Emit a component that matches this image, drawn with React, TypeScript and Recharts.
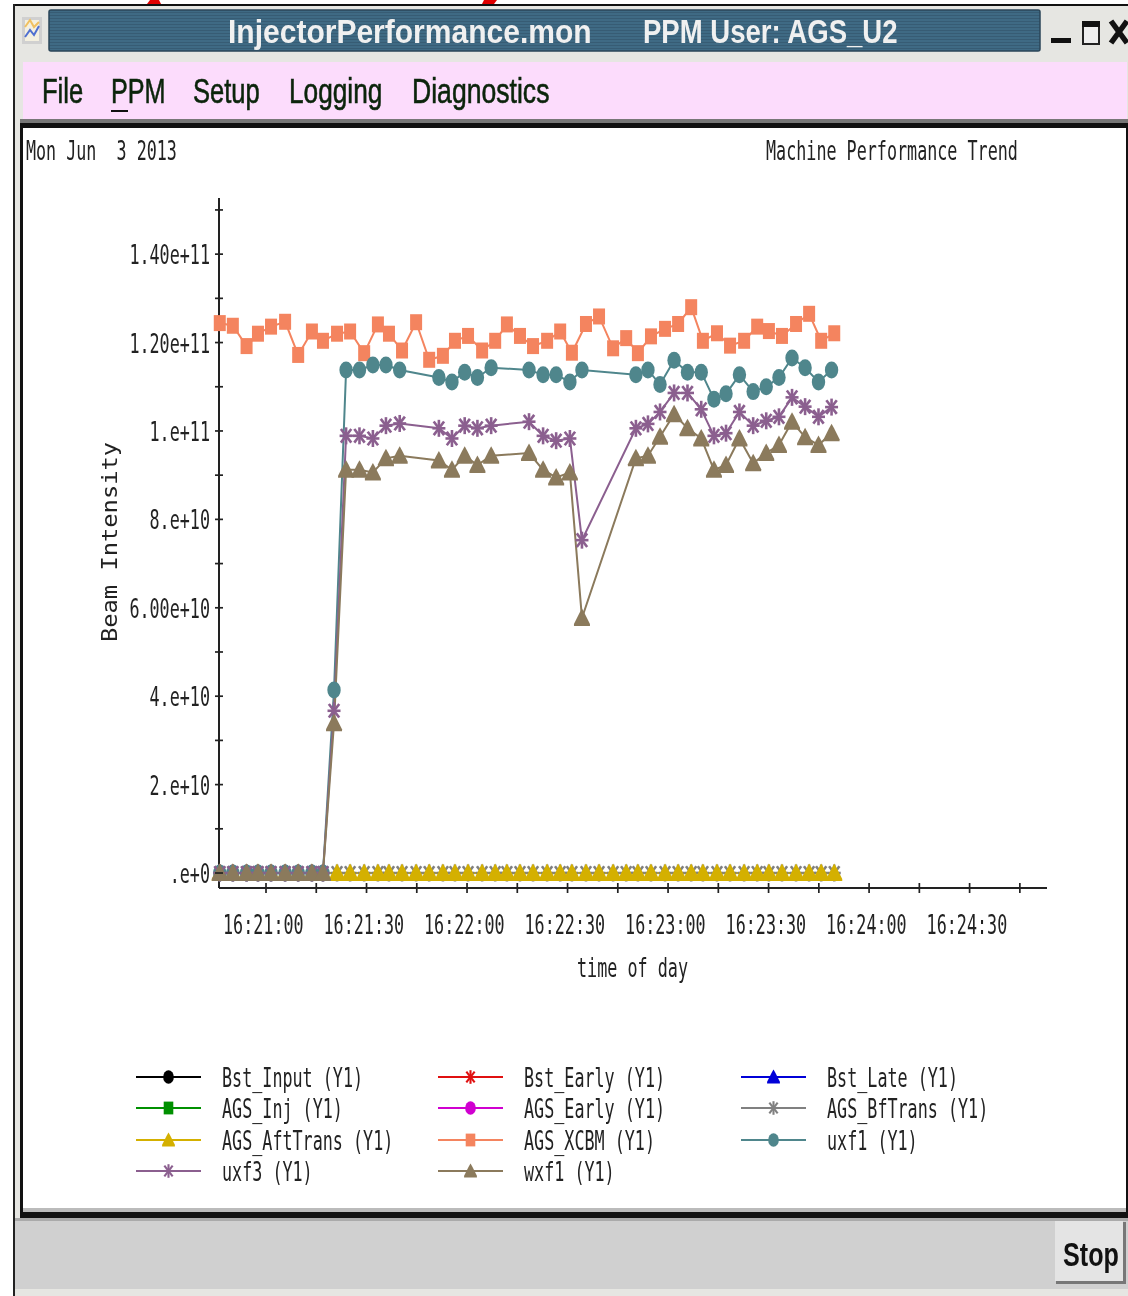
import { LineChart, Line, XAxis, YAxis, Legend } from "recharts";

// times are seconds after 16:21:00, values are in units of 1e10
const allTimes = [
  -13.8, -9.9, -5.8, -2.4, 1.5, 5.7, 9.6, 13.7, 17, 21.2, 25.1, 29.3, 33.4, 36.7, 40.6, 44.8,
  48.7, 52.8, 56.4, 60.3, 64.5, 68.4, 71.9, 75.8, 79.7, 83.9, 87.8, 91.3, 95.5, 99.4, 103.6, 107.5,
  111, 114.9, 119.1, 123, 126.9, 130.4, 134.6, 138.5, 142.7, 146.6, 150.1, 154, 158.2, 162.1, 165.7, 169.6,
];
const idleValues = [
  0, 0, 0, 0, 0, 0, 0, 0, 0, 0, 0, 0, 0, 0, 0, 0,
  0, 0, 0, 0, 0, 0, 0, 0, 0, 0, 0, 0, 0, 0, 0, 0,
  0, 0, 0, 0, 0, 0, 0, 0, 0, 0, 0, 0, 0, 0, 0, 0,
];
const xcbmValues = [
  12.44, 12.38, 11.92, 12.2, 12.36, 12.47, 11.72, 12.25, 12.04, 12.2, 12.25, 11.76, 12.41, 12.2, 11.82, 12.46,
  11.61, 11.7, 12.04, 12.15, 11.82, 12.04, 12.41, 12.15, 11.92, 12.04, 12.25, 11.77, 12.42, 12.59, 11.87, 12.1,
  11.76, 12.14, 12.31, 12.42, 12.8, 12.04, 12.21, 11.93, 12.04, 12.36, 12.26, 12.15, 12.42, 12.65, 12.04, 12.21,
];
const beamTimes = [
  -13.8, -9.9, -5.8, -2.4, 1.5, 5.7, 9.6, 13.7, 17, 20.3, 23.9, 27.9, 31.9, 35.8, 39.9, 51.6, 55.5, 59.3, 63.1, 67.2,
  78.5, 82.7, 86.6, 90.7, 94.3, 110.4, 114, 117.6, 121.8, 125.8, 129.9, 133.7, 137.3, 141.3, 145.4, 149.3, 153.1, 157,
  160.9, 164.9, 168.8,
];
const uxf1Values = [
  0, 0, 0, 0, 0, 0, 0, 0, 0, 4.14, 11.38, 11.38, 11.49, 11.49, 11.38, 11.21, 11.11, 11.33, 11.21, 11.43,
  11.38, 11.27, 11.27, 11.11, 11.38, 11.27, 11.38, 11.05, 11.6, 11.33, 11.33, 10.72, 10.84, 11.27, 10.89, 11, 11.21, 11.65,
  11.43, 11.11, 11.38,
];
const uxf3Values = [
  0, 0, 0, 0, 0, 0, 0, 0, 0, 3.67, 9.89, 9.89, 9.83, 10.12, 10.17, 10.06, 9.83, 10.12, 10.06, 10.12,
  10.21, 9.89, 9.78, 9.83, 7.53, 10.06, 10.16, 10.43, 10.86, 10.86, 10.49, 9.89, 9.95, 10.43, 10.12, 10.23, 10.32, 10.76,
  10.55, 10.32, 10.54,
];
const wxf1Values = [
  0, 0, 0, 0, 0, 0, 0, 0, 0, 3.39, 9.12, 9.12, 9.06, 9.38, 9.44, 9.33, 9.12, 9.44, 9.23, 9.44,
  9.5, 9.12, 8.95, 9.06, 5.77, 9.38, 9.44, 9.87, 10.38, 10.06, 9.83, 9.12, 9.23, 9.83, 9.27, 9.5, 9.68, 10.21,
  9.86, 9.68, 9.95,
];

const xTicks = [0, 15, 30, 45, 60, 75, 90, 105, 120, 135, 150, 165, 180, 195, 210, 225];
const xTickLabels = ["16:21:00", "", "16:21:30", "", "16:22:00", "", "16:22:30", "", "16:23:00", "", "16:23:30", "", "16:24:00", "", "16:24:30", ""];
const yTicks = [0, 1, 2, 3, 4, 5, 6, 7, 8, 9, 10, 11, 12, 13, 14, 15];
const yTickLabels = [".e+0", "", "2.e+10", "", "4.e+10", "", "6.00e+10", "", "8.e+10", "", "1.e+11", "", "1.20e+11", "", "1.40e+11", ""];
const menuItems = ["File", "PPM", "Setup", "Logging", "Diagnostics"];

// the first series are in the legend but have no marks on the plot
const series = [
  { name: "Bst_Input (Y1)", color: "#000000", marker: "circle", times: [], values: [] },
  { name: "Bst_Early (Y1)", color: "#e01010", marker: "star", times: [], values: [] },
  { name: "Bst_Late (Y1)", color: "#0000d8", marker: "triangle", times: [], values: [] },
  { name: "AGS_Inj (Y1)", color: "#009000", marker: "square", times: [], values: [] },
  { name: "AGS_Early (Y1)", color: "#d000d0", marker: "circle", times: [], values: [] },
  { name: "AGS_BfTrans (Y1)", color: "#808080", marker: "star", times: allTimes, values: idleValues },
  { name: "AGS_AftTrans (Y1)", color: "#d4b000", marker: "triangle", times: allTimes, values: idleValues },
  { name: "AGS_XCBM (Y1)", color: "#f4845f", marker: "square", times: allTimes, values: xcbmValues },
  { name: "uxf1 (Y1)", color: "#4f868c", marker: "circle", times: beamTimes, values: uxf1Values },
  { name: "uxf3 (Y1)", color: "#8b5f8f", marker: "star", times: beamTimes, values: uxf3Values },
  { name: "wxf1 (Y1)", color: "#8b7a5c", marker: "triangle", times: beamTimes, values: wxf1Values },
];

const MONO = "'DejaVu Sans Mono', monospace";
const SANS = "'Liberation Sans', sans-serif";

// narrow mono text: the glyphs are squeezed to about 10px per character
function Mono({ x, y, text, width, size = 27, anchor = "start" }: any) {
  if (!text) return null;
  const w = width ?? text.length * 10.08;
  const sx = w / (text.length * 0.602 * size);
  return (
    <text transform={`translate(${x},${y}) scale(${sx},1)`} textAnchor={anchor} fontFamily={MONO} fontSize={size} fill="#222" style={{ whiteSpace: "pre" }}>
      {text}
    </text>
  );
}

function Sans({ x, y, text, size, sx, fill, weight = 400, stroke }: any) {
  return (
    <text transform={`translate(${x},${y}) scale(${sx},1)`} fontFamily={SANS} fontSize={size} fontWeight={weight} fill={fill} stroke={stroke} strokeWidth={stroke ? 0.6 : 0}>
      {text}
    </text>
  );
}

function Marker({ kind, cx, cy, color, scale = 1 }: any) {
  const s = scale;
  if (kind === "square") return <rect x={cx - 6 * s} y={cy - 8 * s} width={12 * s} height={16 * s} fill={color} />;
  if (kind === "circle") return <ellipse cx={cx} cy={cy} rx={6.7 * s} ry={8.5 * s} fill={color} />;
  if (kind === "triangle") {
    const pts = [[cx, cy - 9.5 * s], [cx + 2.5 * s, cy - 5 * s], [cx + 5 * s, cy], [cx + 8 * s, cy + 6 * s], [cx + 8 * s, cy + 8 * s], [cx - 8 * s, cy + 8 * s], [cx - 8 * s, cy + 6 * s], [cx - 5 * s, cy], [cx - 2.5 * s, cy - 5 * s]];
    return <polygon points={pts.map((p) => p.join(",")).join(" ")} fill={color} />;
  }
  const rx = 6.5 * s;
  const ry = 8.5 * s;
  return (
    <g stroke={color} strokeWidth={2.6 * s}>
      <line x1={cx} y1={cy - ry} x2={cx} y2={cy + ry} />
      <line x1={cx - rx} y1={cy} x2={cx + rx} y2={cy} />
      <line x1={cx - rx * 0.8} y1={cy - ry * 0.8} x2={cx + rx * 0.8} y2={cy + ry * 0.8} />
      <line x1={cx - rx * 0.8} y1={cy + ry * 0.8} x2={cx + rx * 0.8} y2={cy - ry * 0.8} />
    </g>
  );
}

function XTick({ x, y, index }: any) {
  return (
    <g>
      <line x1={x} x2={x} y1={y - 5} y2={y + 5} stroke="#222" strokeWidth={1.7} />
      <Mono x={x - 43} y={y + 46} text={xTickLabels[index]} />
    </g>
  );
}

function YTick({ x, y, index }: any) {
  return (
    <g>
      <line x1={x - 4} x2={x + 4} y1={y} y2={y} stroke="#222" strokeWidth={1.7} />
      <Mono x={x - 9} y={y + 10} text={yTickLabels[index]} anchor="end" />
    </g>
  );
}

function LegendBlock() {
  const colX = [136, 438, 741];
  const rowY = [1077, 1108, 1140, 1171];
  return (
    <svg width={1128} height={1296} style={{ position: "absolute", left: 0, top: 0, pointerEvents: "none" }}>
      {series.map((s, i) => {
        const x = colX[i % 3];
        const y = rowY[Math.floor(i / 3)];
        return (
          <g key={s.name}>
            <line x1={x} x2={x + 65} y1={y} y2={y} stroke={s.color} strokeWidth={2} />
            <Marker kind={s.marker} cx={x + 32.5} cy={y} color={s.color} scale={0.8} />
            <Mono x={x + 86} y={y + 10} text={s.name} />
          </g>
        );
      })}
    </svg>
  );
}

function Frame() {
  const menuX = [42, 111, 193, 289, 412];
  const menuSx = [0.73, 0.72, 0.73, 0.75, 0.76];
  return (
    <svg width={1128} height={1296} style={{ position: "absolute", left: 0, top: 0 }}>
      <defs>
        <pattern id="titleStripes" width="4" height="3" patternUnits="userSpaceOnUse">
          <rect width="4" height="3" fill="#3f6a84" />
          <rect width="4" height="1" fill="#375c74" />
        </pattern>
      </defs>
      <rect width={1128} height={1296} fill="#ffffff" />
      <polygon points="147,4 150,0 159,0 161,4" fill="#e00000" />
      <polygon points="482,4 484,0 497,0 494,4" fill="#e00000" />
      <rect x={14} y={5} width={1114} height={1291} fill="#e6e6e2" />
      <rect x={13} y={4} width={1115} height={2} fill="#111" />
      <rect x={13} y={4} width={2} height={1292} fill="#222" />
      <rect x={22} y={17} width={20} height={27} fill="#d0d0d0" />
      <rect x={25} y={20} width={14} height={21} fill="#f4f0e0" />
      <polyline points="25,27 30,20 34,27 39,22" fill="none" stroke="#f0c060" strokeWidth={2} />
      <polyline points="25,37 30,30 34,35 39,26" fill="none" stroke="#5070d0" strokeWidth={2} />
      <rect x={49} y={10} width={991} height={41} rx={2} fill="url(#titleStripes)" stroke="#2b4658" strokeWidth={1.5} />
      <Sans x={228} y={43} text="InjectorPerformance.mon" size={33} sx={0.91} fill="#f0f0f0" weight={700} />
      <Sans x={643} y={43} text="PPM User: AGS_U2" size={33} sx={0.835} fill="#f0f0f0" weight={700} />
      <rect x={1051} y={38} width={20} height={5} fill="#111" />
      <rect x={1083} y={22} width={16} height={22} fill="#eeeeee" stroke="#222" strokeWidth={2} />
      <rect x={1082} y={21} width={18} height={6} fill="#111" />
      <path d="M1111 21 L1127 43 M1127 21 L1111 43" stroke="#111" strokeWidth={5.5} />
      <rect x={23} y={62} width={1104} height={57} fill="#fcdcfc" />
      {menuItems.map((m, i) => (
        <Sans key={m} x={menuX[i]} y={103} text={m} size={35} sx={menuSx[i]} fill="#0b240b" stroke="#0b240b" />
      ))}
      <rect x={111} y={110} width={17} height={2} fill="#111" />
      <rect x={20} y={119} width={1108} height={4} fill="#777" />
      <rect x={20} y={123} width={1108} height={1095} fill="#111" />
      <rect x={23} y={128} width={1103} height={1080} fill="#ffffff" />
      <rect x={23} y={1208} width={1103} height={4} fill="#bbbbbb" />
      <rect x={15} y={1218} width={1113} height={3} fill="#aaaaaa" />
      <rect x={15} y={1221} width={1113} height={68} fill="#d0d0d0" />
      <rect x={1056} y={1222} width={70} height={62} fill="#777777" />
      <rect x={1055} y={1221} width={68} height={60} fill="#e4e4e4" />
      <Sans x={1063} y={1266} text="Stop" size={34} sx={0.74} fill="#111" weight={700} />
      <Mono x={26} y={160} text="Mon Jun  3 2013" width={151} />
      <Mono x={766} y={160} text="Machine Performance Trend" width={252} />
      <Mono x={577} y={977} text="time of day" width={111} />
      <text transform="translate(117,642) rotate(-90) scale(1.08,1)" fontFamily={MONO} fontSize={22} fill="#222">
        Beam Intensity
      </text>
    </svg>
  );
}

export default function App() {
  return (
    <div style={{ position: "absolute", left: 0, top: 0, width: 1128, height: 1296, overflow: "hidden", filter: "blur(0.5px)" }}>
      <Frame />
      <div style={{ position: "absolute", left: 0, top: 0 }}>
        <LineChart width={1128} height={1296} margin={{ top: 198, right: 81, bottom: 407, left: 218 }}>
          <XAxis
            dataKey="time"
            type="number"
            domain={[-14.03, 233.1]}
            ticks={xTicks}
            interval={0}
            height={1}
            tick={<XTick />}
            tickLine={false}
            tickSize={0}
            tickMargin={0}
            axisLine={{ stroke: "#222", strokeWidth: 2 }}
          />
          <YAxis
            type="number"
            domain={[-0.339, 15.27]}
            ticks={yTicks}
            interval={0}
            width={1}
            tick={<YTick />}
            tickLine={false}
            tickSize={0}
            tickMargin={0}
            axisLine={{ stroke: "#222", strokeWidth: 2 }}
          />
          <Legend content={<LegendBlock />} wrapperStyle={{ position: "absolute", left: 0, top: 0, width: 1128, height: 0 }} />
          {series.map((s) => (
            <Line
              key={s.name}
              name={s.name}
              data={s.times.map((t, i) => ({ time: t, value: s.values[i] }))}
              dataKey="value"
              type="linear"
              stroke={s.color}
              strokeWidth={2}
              isAnimationActive={false}
              dot={(p: any) => <Marker key={p.index} kind={s.marker} cx={p.cx} cy={p.cy} color={s.color} />}
            />
          ))}
        </LineChart>
      </div>
    </div>
  );
}
